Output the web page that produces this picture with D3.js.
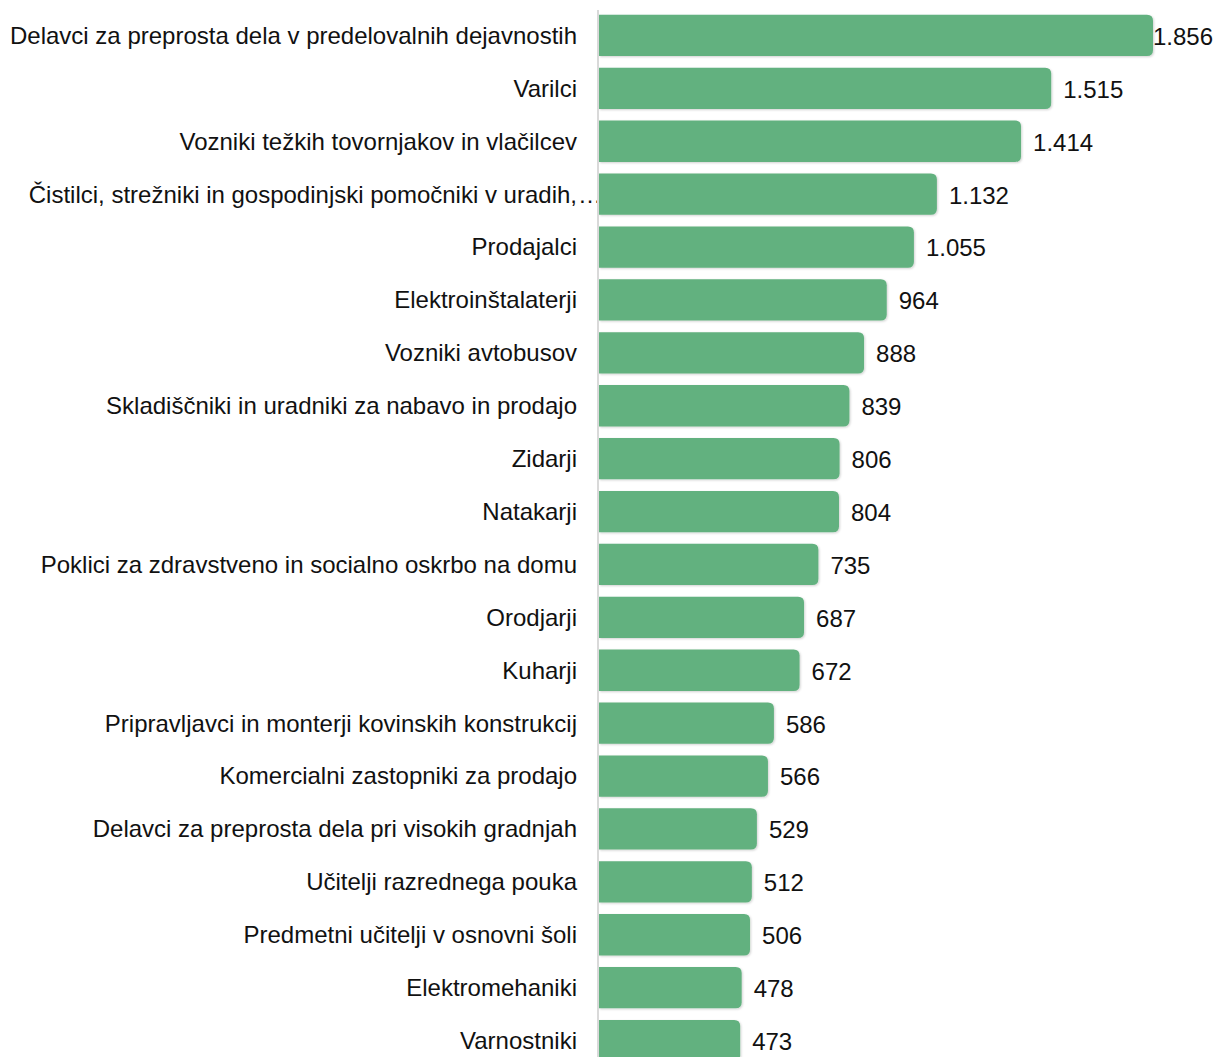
<!DOCTYPE html>
<html>
<head>
<meta charset="utf-8">
<script src="https://cdn.jsdelivr.net/npm/d3@7"></script>
<style>
  body { margin: 0; background: #fff; }
  text { font-family: "Liberation Sans", Arial, sans-serif; fill: #111; }
</style>
</head>
<body>
<div id="chart"></div>
<script>
var width = 1214,
    height = 1057;

var categories = [
  "Delavci za preprosta dela v predelovalnih dejavnostih",
  "Varilci",
  "Vozniki težkih tovornjakov in vlačilcev",
  "Čistilci, strežniki in gospodinjski pomočniki v uradih,…",
  "Prodajalci",
  "Elektroinštalaterji",
  "Vozniki avtobusov",
  "Skladiščniki in uradniki za nabavo in prodajo",
  "Zidarji",
  "Natakarji",
  "Poklici za zdravstveno in socialno oskrbo na domu",
  "Orodjarji",
  "Kuharji",
  "Pripravljavci in monterji kovinskih konstrukcij",
  "Komercialni zastopniki za prodajo",
  "Delavci za preprosta dela pri visokih gradnjah",
  "Učitelji razrednega pouka",
  "Predmetni učitelji v osnovni šoli",
  "Elektromehaniki",
  "Varnostniki"
];
var values = [1856, 1515, 1414, 1132, 1055, 964, 888, 839, 806, 804, 735, 687, 672, 586, 566, 529, 512, 506, 478, 473];
var valueLabels = ["1.856", "1.515", "1.414", "1.132", "1.055", "964", "888", "839", "806", "804", "735", "687", "672", "586", "566", "529", "512", "506", "478", "473"];

var rows = categories.map(function(c, i) {
  return { name: c, value: values[i], label: valueLabels[i] };
});

var x0 = 599;
var x = d3.scaleLinear().domain([0, 1856]).range([x0, 1153]);
var y = d3.scaleBand().domain(categories).range([9, 9 + 52.9 * 20]).paddingInner(0.22).paddingOuter(0.11);

var svg = d3.select('#chart').append('svg')
  .attr('width', width)
  .attr('height', height);

var defs = svg.append('defs');
var f = defs.append('filter').attr('id', 'sh').attr('x', '-5%').attr('y', '-20%').attr('width', '110%').attr('height', '140%');
f.append('feDropShadow').attr('dx', 1).attr('dy', 1).attr('stdDeviation', 1).attr('flood-color', '#000').attr('flood-opacity', 0.18);

function barPath(x1, y1, w, h, r) {
  return 'M' + x1 + ',' + y1 +
    'H' + (x1 + w - r) +
    'Q' + (x1 + w) + ',' + y1 + ' ' + (x1 + w) + ',' + (y1 + r) +
    'V' + (y1 + h - r) +
    'Q' + (x1 + w) + ',' + (y1 + h) + ' ' + (x1 + w - r) + ',' + (y1 + h) +
    'H' + x1 + 'Z';
}

var g = svg.append('g');

g.selectAll('path.bar')
  .data(rows).enter()
  .append('path')
  .attr('class', 'bar')
  .attr('d', function(d) { return barPath(x(0), y(d.name), x(d.value) - x(0), y.bandwidth(), 6); })
  .attr('fill', '#62b17f')
  .attr('filter', 'url(#sh)');

// axis line
svg.append('line')
  .attr('x1', x0 - 1).attr('x2', x0 - 1)
  .attr('y1', 10).attr('y2', height)
  .attr('stroke', '#d9d9d9')
  .attr('stroke-width', 2);

// category labels
var labels = g.selectAll('g.lab')
  .data(rows).enter()
  .append('g')
  .attr('class', 'lab');

labels.append('text')
  .attr('x', 577)
  .attr('y', function(d) { return y(d.name) + y.bandwidth() / 2; })
  .attr('dy', '0.35em')
  .attr('text-anchor', 'end')
  .style('font-size', '24px')
  .text(function(d) { return d.name.replace('…', ''); });

labels.filter(function(d) { return d.name.indexOf('…') >= 0; })
  .append('text')
  .attr('x', 578)
  .attr('y', function(d) { return y(d.name) + y.bandwidth() / 2; })
  .attr('dy', '0.35em')
  .style('font-size', '24px')
  .text('…');

// value labels
g.selectAll('text.val')
  .data(rows).enter()
  .append('text')
  .attr('class', 'val')
  .attr('y', function(d) { return y(d.name) + y.bandwidth() / 2 + 1; })
  .attr('dy', '0.35em')
  .style('font-size', '24px')
  .text(function(d) { return d.label; })
  .attr('x', function(d) {
    var w = this.getComputedTextLength();
    return Math.min(x(d.value) + 12, width - 1 - w);
  });
</script>
</body>
</html>
